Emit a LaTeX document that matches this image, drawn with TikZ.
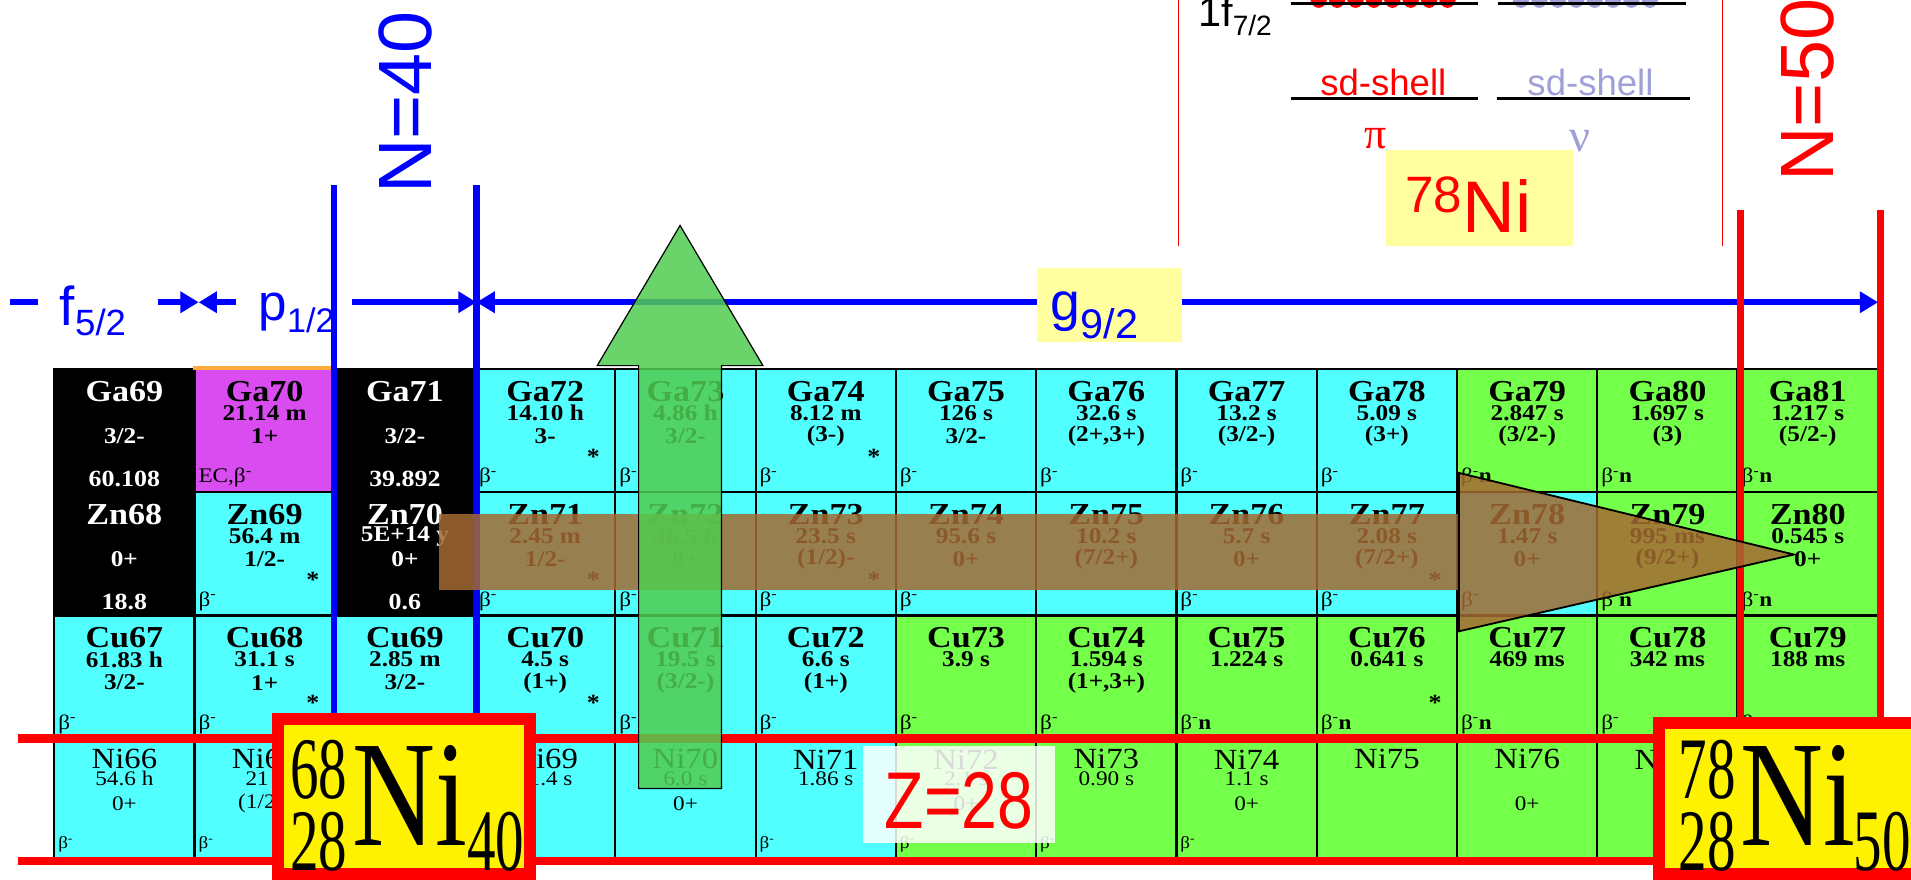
\documentclass[tikz,border=0pt]{standalone}
\usepackage{fontspec}
\usepackage{etoolbox}
\setmainfont{Liberation Serif}
\newfontfamily\cellfont[FakeStretch=1.12]{Liberation Serif}
\newfontfamily\lsans{Liberation Sans}
\usetikzlibrary{arrows.meta,calc}
\definecolor{cyanc}{RGB}{82,255,255}
\definecolor{greenc}{RGB}{115,255,74}
\definecolor{magc}{RGB}{217,76,240}
\definecolor{lav}{RGB}{160,160,216}
\definecolor{lyel}{RGB}{255,255,160}
\definecolor{brownc}{RGB}{165,105,50}
\definecolor{garrow}{RGB}{80,205,80}
\definecolor{orangec}{RGB}{255,170,60}
\newcommand\bdk{β\textsuperscript{-}}
\newcommand\bdn{β\textsuperscript{-}\textbf{n}}
\newcommand\nmy{19}\newcommand\hly{37}\newcommand\spy{56}\newcommand\dcy{90}
\newcommand\nuc[8]{%
 \node[cellbox,fill=#3] (#4) at ({102.05+115.1*#1},{353.5+101*#2}) {};
 \node[nmtxt] (#4-n) at ($(#4.north)+(0,\nmy)$) {#4};
 \ifblank{#5}{}{\node[hltxt] (#4-h) at ($(#4.north)+(0,\hly)$) {#5};}
 \ifblank{#6}{}{\node[sptxt] (#4-s) at ($(#4.north)+(0,\spy)$) {#6};}
 \ifblank{#7}{}{\node[dctxt] (#4-d) at ($(#4.north west)+(4,\dcy)$) {#7};}
 \ifblank{#8}{}{\node[sttxt] (#4-x) at ($(#4.north west)+(98,73)$) {*};}
}
\newcommand\stab[6]{%
 \node[cellbox,fill=black] (#3) at ({102.05+115.1*#1},{353.5+101*#2}) {};
 \node[nmtxt,text=white] (#3-n) at ($(#3.north)+(0,\nmy)$) {#3};
 \ifblank{#4}{}{\node[hltxt,text=white] (#3-h) at ($(#3.north)+(0,\hly)$) {#4};}
 \node[sptxt,text=white] (#3-s) at ($(#3.north)+(0,\spy)$) {#5};
 \node[abtxt,text=white] (#3-a) at ($(#3.north)+(0,91)$) {#6};
}
\begin{document}
\begin{tikzpicture}[x=1pt,y=-1pt,
  cellbox/.style={draw=black,line width=1.8pt,minimum width=115.1pt,minimum height=101pt,inner sep=0pt},
  nmtxt/.style={font=\cellfont\bfseries\fontsize{25}{25}\selectfont,inner sep=0pt},
  hltxt/.style={font=\cellfont\bfseries\fontsize{18.5}{18.5}\selectfont,inner sep=0pt},
  sptxt/.style={font=\cellfont\bfseries\fontsize{18.5}{18.5}\selectfont,inner sep=0pt},
  abtxt/.style={font=\cellfont\bfseries\fontsize{19}{19}\selectfont,inner sep=0pt},
  dctxt/.style={font=\cellfont\fontsize{17}{17}\selectfont,inner sep=0pt,anchor=west},
  sttxt/.style={font=\cellfont\bfseries\fontsize{19}{19}\selectfont,inner sep=0pt},
  blueline/.style={blue,line width=5pt},
  redthick/.style={red,line width=6pt},
  zline/.style={red,line width=7pt},
  tip/.style={-{Triangle[length=15pt,width=17pt]}},
  bigtxt/.style={inner sep=0pt,font=\lsans\fontsize{62}{62}\selectfont},
  boxtxt/.style={inner sep=0pt,anchor=base west},
  nibox/.style={draw=red,fill=yellow,line width=10pt}]
\useasboundingbox (0,0) rectangle (1568,722);
\fill[white] (0,0) rectangle (1568,722);
% ---- row Ga
\stab{0}{0}{Ga69}{}{3/2-}{60.108}
\nuc{1}{0}{magc}{Ga70}{21.14 m}{1+}{EC,\bdk}{}
\stab{2}{0}{Ga71}{}{3/2-}{39.892}
\nuc{3}{0}{cyanc}{Ga72}{14.10 h}{3-}{\bdk}{*}
\nuc{4}{0}{cyanc}{Ga73}{4.86 h}{3/2-}{\bdk}{}
\nuc{5}{0}{cyanc}{Ga74}{8.12 m}{(3-)}{\bdk}{*}
\nuc{6}{0}{cyanc}{Ga75}{126 s}{3/2-}{\bdk}{}
\nuc{7}{0}{cyanc}{Ga76}{32.6 s}{(2+,3+)}{\bdk}{}
\nuc{8}{0}{cyanc}{Ga77}{13.2 s}{(3/2-)}{\bdk}{}
\nuc{9}{0}{cyanc}{Ga78}{5.09 s}{(3+)}{\bdk}{}
\nuc{10}{0}{greenc}{Ga79}{2.847 s}{(3/2-)}{\bdn}{}
\nuc{11}{0}{greenc}{Ga80}{1.697 s}{(3)}{\bdn}{}
\nuc{12}{0}{greenc}{Ga81}{1.217 s}{(5/2-)}{\bdn}{}
\draw[orangec,line width=3pt] (Ga70.north west) -- (Ga70.north east);
% ---- row Zn
\stab{0}{1}{Zn68}{}{0+}{18.8}
\nuc{1}{1}{cyanc}{Zn69}{56.4 m}{1/2-}{\bdk}{*}
\stab{2}{1}{Zn70}{5E+14 y}{0+}{0.6}
\nuc{3}{1}{cyanc}{Zn71}{2.45 m}{1/2-}{\bdk}{*}
\nuc{4}{1}{cyanc}{Zn72}{46.5 h}{0+}{\bdk}{}
\nuc{5}{1}{cyanc}{Zn73}{23.5 s}{(1/2)-}{\bdk}{*}
\nuc{6}{1}{cyanc}{Zn74}{95.6 s}{0+}{\bdk}{}
\nuc{7}{1}{cyanc}{Zn75}{10.2 s}{(7/2+)}{}{}
\nuc{8}{1}{cyanc}{Zn76}{5.7 s}{0+}{\bdk}{}
\nuc{9}{1}{cyanc}{Zn77}{2.08 s}{(7/2+)}{\bdk}{*}
\nuc{10}{1}{cyanc}{Zn78}{1.47 s}{0+}{\bdk}{}
\nuc{11}{1}{greenc}{Zn79}{995 ms}{(9/2+)}{\bdn}{}
\nuc{12}{1}{greenc}{Zn80}{0.545 s}{0+}{\bdn}{}
% ---- row Cu
\nuc{0}{2}{cyanc}{Cu67}{61.83 h}{3/2-}{\bdk}{}
\nuc{1}{2}{cyanc}{Cu68}{31.1 s}{1+}{\bdk}{*}
\nuc{2}{2}{cyanc}{Cu69}{2.85 m}{3/2-}{\bdk}{}
\nuc{3}{2}{cyanc}{Cu70}{4.5 s}{(1+)}{\bdk}{*}
\nuc{4}{2}{cyanc}{Cu71}{19.5 s}{(3/2-)}{\bdk}{}
\nuc{5}{2}{cyanc}{Cu72}{6.6 s}{(1+)}{\bdk}{}
\nuc{6}{2}{greenc}{Cu73}{3.9 s}{}{\bdk}{}
\nuc{7}{2}{greenc}{Cu74}{1.594 s}{(1+,3+)}{\bdk}{}
\nuc{8}{2}{greenc}{Cu75}{1.224 s}{}{\bdn}{}
\nuc{9}{2}{greenc}{Cu76}{0.641 s}{}{\bdn}{*}
\nuc{10}{2}{greenc}{Cu77}{469 ms}{}{\bdn}{}
\nuc{11}{2}{greenc}{Cu78}{342 ms}{}{\bdk}{}
\nuc{12}{2}{greenc}{Cu79}{188 ms}{}{\bdk}{}
% ---- row Ni
\renewcommand\nmy{18}\renewcommand\hly{34}\renewcommand\spy{54}\renewcommand\dcy{88}
\tikzset{nmtxt/.style={font=\cellfont\fontsize{24}{24}\selectfont,inner sep=0pt},
  hltxt/.style={font=\cellfont\fontsize{17}{17}\selectfont,inner sep=0pt},
  sptxt/.style={font=\cellfont\fontsize{17}{17}\selectfont,inner sep=0pt},
  dctxt/.style={font=\cellfont\fontsize{14}{14}\selectfont,inner sep=0pt,anchor=west}}
\nuc{0}{3}{cyanc}{Ni66}{54.6 h}{0+}{\bdk}{}
\nuc{1}{3}{cyanc}{Ni67}{21 s}{(1/2-)}{\bdk}{}
\nuc{2}{3}{cyanc}{Ni68}{}{}{}{}
\nuc{3}{3}{cyanc}{Ni69}{11.4 s}{}{\bdk}{}
\nuc{4}{3}{cyanc}{Ni70}{6.0 s}{0+}{}{}
\nuc{5}{3}{cyanc}{Ni71}{1.86 s}{}{\bdk}{}
\nuc{6}{3}{greenc}{Ni72}{2.1 s}{0+}{\bdk}{}
\nuc{7}{3}{greenc}{Ni73}{0.90 s}{}{\bdk}{}
\nuc{8}{3}{greenc}{Ni74}{1.1 s}{0+}{\bdk}{}
\nuc{9}{3}{greenc}{Ni75}{}{}{}{}
\nuc{10}{3}{greenc}{Ni76}{}{0+}{}{}
\nuc{11}{3}{greenc}{Ni77}{}{}{}{}
\nuc{12}{3}{greenc}{Ni78}{}{}{}{}
% ---- N=40 lines and shell arrows
\draw[blueline] (274,152) -- (274,592);
\draw[blueline] (391,152) -- (391,592);
\node[bigtxt,text=blue,rotate=90] (n40) at (333,84) {N=40};
\draw[blueline] (8,248) -- (31,248);
\draw[blueline,tip] (130,248) -- (163,248);
\draw[blueline,tip] (194,248) -- (163,248);
\draw[blueline,tip] (289,248) -- (391,248);
\draw[blueline,{Triangle[length=15pt,width=17pt]}-{Triangle[length=15pt,width=17pt]}] (391,248) -- (1541,248);
\node[boxtxt,text=blue] (f52) at (49,267) {\lsans\fontsize{45}{45}\selectfont f\raisebox{-8pt}{\fontsize{30}{30}\selectfont 5/2}};
\node[boxtxt,text=blue] (p12) at (212,263) {\lsans\fontsize{42}{42}\selectfont p\raisebox{-10pt}{\fontsize{28}{28}\selectfont 1/2}};
\node[fill=lyel,minimum width=119pt,minimum height=61pt,inner sep=0pt] (gbox) at (910.5,250.5) {};
\node[boxtxt,text=blue] (g92) at (862,263) {\lsans\fontsize{44}{44}\selectfont g\raisebox{-15pt}{\fontsize{34}{34}\selectfont 9/2}};
% ---- N=50 lines
\draw[redthick] (1428,172) -- (1428,592);
\draw[redthick] (1543,172) -- (1543,592);
\node[bigtxt,text=red,rotate=90] (n50) at (1483,74) {N=50};
% ---- shell inset
\draw[red,line width=1pt] (967,0) -- (967,202);
\draw[red,line width=1pt] (1413,0) -- (1413,202);
\node[boxtxt] (f72) at (983,22) {\lsans\fontsize{34}{34}\selectfont 1f\raisebox{-7pt}{\fontsize{23}{23}\selectfont 7/2}};
\foreach \i in {0,...,7} {\fill[red] ({1082+15.1*\i},-2) ellipse (7pt and 8.5pt);}
\foreach \i in {0,...,7} {\fill[lav] ({1248+15.1*\i},-2) ellipse (7pt and 8.5pt);}
\draw[line width=2pt] (1059,3) -- (1213,3);
\draw[line width=2pt] (1229,3) -- (1383,3);
\node[inner sep=0pt,anchor=base,text=red,font=\lsans\fontsize{30}{30}\selectfont] (sdp) at (1135,78) {sd-shell};
\node[inner sep=0pt,anchor=base,text=lav,font=\lsans\fontsize{30}{30}\selectfont] (sdn) at (1305,78) {sd-shell};
\draw[line width=2pt] (1059,81) -- (1213,81);
\draw[line width=2pt] (1228,81) -- (1387,81);
\node[inner sep=0pt,text=red,font=\fontsize{36}{36}\selectfont] (pi) at (1129,114) {π};
\node[inner sep=0pt,text=lav,font=\fontsize{38}{38}\selectfont] (nu) at (1296,116) {ν};
\node[fill=lyel,minimum width=154pt,minimum height=79pt,inner sep=0pt] (nibig) at (1214,162.5) {};
\node[boxtxt,text=red] (ni78t) at (1153,191) {\lsans\raisebox{17pt}{\fontsize{42}{42}\selectfont 78}\fontsize{60}{60}\selectfont Ni};
% ---- Z=28 lines
\draw[zline] (15,606) -- (1360,606);
\draw[zline] (15,706.5) -- (1360,706.5);
% ---- arrows
\fill[brownc,fill opacity=0.85] (360,422) rectangle (1197,484);
\filldraw[fill=brownc,fill opacity=0.85,draw=black,line width=1.5pt] (1197,388) -- (1472,455) -- (1197,518) -- cycle;
\filldraw[fill=garrow,fill opacity=0.85,draw=black,line width=1pt] (524,300) -- (490,300) -- (558,185) -- (626,300) -- (592,300) -- (592,647) -- (524,647) -- cycle;
% ---- Z=28 label
\node[fill=white,fill opacity=0.85,minimum width=158pt,minimum height=80pt,inner sep=0pt] (zbox) at (787,652) {};
\node[inner sep=0pt,text=red] (z28) at (787,657) {\scalebox{0.8}[1]{\lsans\fontsize{66}{66}\selectfont Z=28}};
% ---- boxes
\draw[nibox] (228,590) rectangle (435,717);
\node[boxtxt] (b68) at (238,655) {\scalebox{0.65}[1]{\fontsize{72}{72}\selectfont 68}};
\node[boxtxt] (b28a) at (238,714) {\scalebox{0.65}[1]{\fontsize{72}{72}\selectfont 28}};
\node[boxtxt] (bni68) at (289,694) {\scalebox{0.76}[1]{\fontsize{124}{124}\selectfont Ni}};
\node[boxtxt] (b40) at (383,714) {\scalebox{0.65}[1]{\fontsize{72}{72}\selectfont 40}};
\draw[nibox] (1361,593) rectangle (1578,717);
\node[boxtxt] (b78) at (1377,655) {\scalebox{0.65}[1]{\fontsize{72}{72}\selectfont 78}};
\node[boxtxt] (b28b) at (1377,714) {\scalebox{0.65}[1]{\fontsize{72}{72}\selectfont 28}};
\node[boxtxt] (bni78) at (1428,694) {\scalebox{0.76}[1]{\fontsize{124}{124}\selectfont Ni}};
\node[boxtxt] (b50) at (1521,714) {\scalebox{0.65}[1]{\fontsize{72}{72}\selectfont 50}};
\end{tikzpicture}
\end{document}
